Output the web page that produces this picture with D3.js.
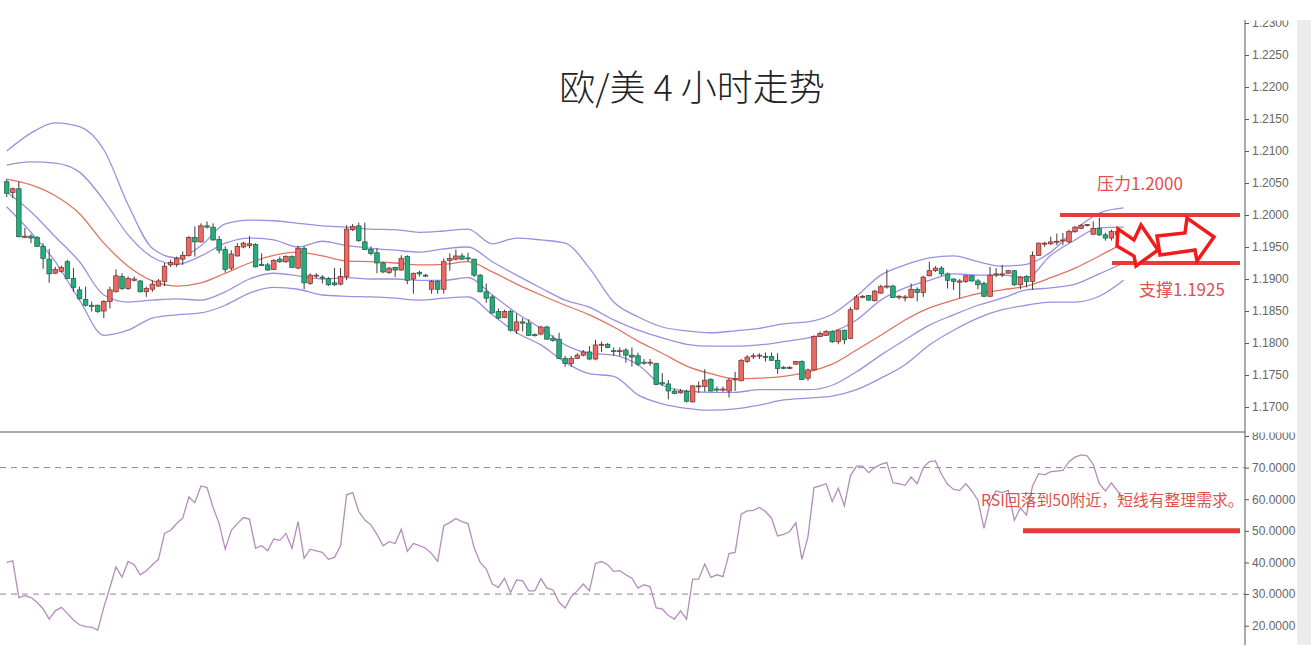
<!DOCTYPE html>
<html><head><meta charset="utf-8">
<script src="https://cdn.jsdelivr.net/npm/d3@7"></script>
<style>body{margin:0;background:#fff}svg{display:block}</style>
</head><body>
<svg id="c" width="1311" height="660"></svg>
<script>
const open=[1.2052,1.2035,1.2041,1.1965,1.1967,1.1965,1.1951,1.1931,1.1909,1.1912,
1.1927,1.1901,1.1883,1.1868,1.1859,1.1859,1.1850,1.1865,1.1880,1.1904,
1.1885,1.1898,1.1897,1.1880,1.1884,1.1889,1.1896,1.1922,1.1923,1.1931,
1.1937,1.1965,1.1958,1.1983,1.1981,1.1962,1.1946,1.1917,1.1936,1.1950,
1.1952,1.1954,1.1923,1.1922,1.1915,1.1931,1.1927,1.1935,1.1917,1.1948,
1.1893,1.1905,1.1903,1.1901,1.1894,1.1892,1.1904,1.1977,1.1983,1.1958,
1.1946,1.1941,1.1925,1.1910,1.1918,1.1914,1.1935,1.1900,1.1910,1.1906,
1.1884,1.1896,1.1884,1.1929,1.1931,1.1936,1.1933,1.1931,1.1906,1.1880,
1.1872,1.1849,1.1840,1.1849,1.1820,1.1833,1.1831,1.1813,1.1814,1.1825,
1.1807,1.1806,1.1776,1.1768,1.1776,1.1781,1.1786,1.1775,1.1797,1.1798,
1.1788,1.1787,1.1789,1.1781,1.1780,1.1770,1.1769,1.1768,1.1738,1.1736,
1.1725,1.1722,1.1724,1.1708,1.1732,1.1732,1.1743,1.1728,1.1727,1.1725,
1.1743,1.1741,1.1771,1.1779,1.1780,1.1779,1.1779,1.1773,1.1762,1.1761,
1.1767,1.1771,1.1745,1.1758,1.1810,1.1812,1.1818,1.1802,1.1820,1.1807,
1.1853,1.1872,1.1874,1.1866,1.1878,1.1888,1.1889,1.1872,1.1871,1.1871,
1.1884,1.1879,1.1905,1.1913,1.1917,1.1908,1.1900,1.1895,1.1896,1.1905,
1.1897,1.1893,1.1873,1.1907,1.1907,1.1909,1.1913,1.1891,1.1904,1.1896,
1.1937,1.1955,1.1955,1.1958,1.1960,1.1958,1.1974,1.1979,1.1984,1.1970,
1.1979,1.1969,1.1964,1.1974,1.1971];
const high=[1.2056,1.2043,1.2052,1.1980,1.1970,1.1967,1.1956,1.1947,1.1919,1.1921,
1.1930,1.1917,1.1888,1.1888,1.1865,1.1860,1.1867,1.1888,1.1915,1.1909,
1.1904,1.1904,1.1898,1.1888,1.1898,1.1900,1.1925,1.1930,1.1935,1.1943,
1.1967,1.1982,1.1987,1.1990,1.1987,1.1967,1.1951,1.1945,1.1956,1.1958,
1.1967,1.1956,1.1940,1.1925,1.1931,1.1935,1.1937,1.1937,1.1952,1.1951,
1.1909,1.1909,1.1906,1.1903,1.1917,1.1917,1.1984,1.1986,1.1988,1.1988,
1.1951,1.1948,1.1927,1.1919,1.1919,1.1937,1.1937,1.1910,1.1913,1.1908,
1.1898,1.1898,1.1932,1.1940,1.1946,1.1940,1.1941,1.1932,1.1908,1.1893,
1.1875,1.1854,1.1852,1.1852,1.1846,1.1839,1.1837,1.1815,1.1827,1.1827,
1.1812,1.1816,1.1780,1.1780,1.1784,1.1789,1.1795,1.1805,1.1802,1.1800,
1.1793,1.1793,1.1792,1.1793,1.1785,1.1775,1.1775,1.1769,1.1753,1.1742,
1.1729,1.1728,1.1727,1.1734,1.1740,1.1759,1.1745,1.1732,1.1732,1.1745,
1.1755,1.1775,1.1781,1.1784,1.1784,1.1785,1.1785,1.1784,1.1764,1.1764,
1.1772,1.1773,1.1760,1.1812,1.1818,1.1820,1.1820,1.1821,1.1821,1.1856,
1.1875,1.1875,1.1875,1.1883,1.1891,1.1915,1.1891,1.1875,1.1875,1.1893,
1.1887,1.1905,1.1927,1.1920,1.1920,1.1910,1.1901,1.1900,1.1906,1.1906,
1.1900,1.1896,1.1919,1.1917,1.1922,1.1914,1.1914,1.1905,1.1906,1.1943,
1.1957,1.1958,1.1966,1.1971,1.1972,1.1977,1.1983,1.1986,1.1986,1.1990,
1.1996,1.1972,1.1977,1.1977,1.1973];
const low=[1.2028,1.2026,1.1965,1.1964,1.1956,1.1950,1.1916,1.1894,1.1908,1.1910,
1.1900,1.1880,1.1868,1.1857,1.1849,1.1847,1.1839,1.1854,1.1879,1.1883,
1.1883,1.1896,1.1879,1.1872,1.1880,1.1888,1.1889,1.1919,1.1919,1.1922,
1.1935,1.1935,1.1957,1.1979,1.1960,1.1940,1.1910,1.1914,1.1935,1.1948,
1.1948,1.1918,1.1920,1.1913,1.1914,1.1925,1.1925,1.1917,1.1915,1.1884,
1.1891,1.1901,1.1893,1.1889,1.1889,1.1890,1.1898,1.1975,1.1958,1.1945,
1.1937,1.1909,1.1909,1.1908,1.1903,1.1913,1.1892,1.1877,1.1904,1.1903,
1.1877,1.1877,1.1877,1.1913,1.1929,1.1930,1.1927,1.1903,1.1879,1.1863,
1.1846,1.1837,1.1839,1.1818,1.1814,1.1818,1.1811,1.1810,1.1812,1.1805,
1.1802,1.1775,1.1763,1.1763,1.1775,1.1779,1.1773,1.1773,1.1786,1.1792,
1.1780,1.1779,1.1769,1.1763,1.1764,1.1766,1.1764,1.1734,1.1733,1.1712,
1.1720,1.1721,1.1707,1.1707,1.1722,1.1724,1.1724,1.1724,1.1724,1.1715,
1.1725,1.1740,1.1769,1.1775,1.1775,1.1771,1.1772,1.1752,1.1759,1.1759,
1.1766,1.1742,1.1741,1.1757,1.1809,1.1811,1.1800,1.1798,1.1798,1.1806,
1.1852,1.1870,1.1866,1.1865,1.1877,1.1885,1.1870,1.1868,1.1865,1.1870,
1.1865,1.1872,1.1904,1.1911,1.1905,1.1885,1.1883,1.1870,1.1894,1.1896,
1.1884,1.1872,1.1872,1.1903,1.1903,1.1908,1.1889,1.1884,1.1887,1.1883,
1.1936,1.1950,1.1953,1.1953,1.1953,1.1956,1.1972,1.1978,1.1982,1.1969,
1.1967,1.1960,1.1960,1.1967,1.1962];
const close=[1.2034,1.2041,1.1966,1.1967,1.1964,1.1951,1.1932,1.1908,1.1915,1.1918,
1.1901,1.1887,1.1869,1.1859,1.1857,1.1849,1.1865,1.1883,1.1905,1.1885,
1.1901,1.1900,1.1880,1.1885,1.1892,1.1897,1.1920,1.1926,1.1932,1.1937,
1.1965,1.1958,1.1983,1.1981,1.1961,1.1945,1.1915,1.1939,1.1951,1.1956,
1.1955,1.1919,1.1921,1.1914,1.1929,1.1927,1.1935,1.1918,1.1948,1.1894,
1.1906,1.1906,1.1902,1.1891,1.1891,1.1904,1.1978,1.1982,1.1960,1.1946,
1.1940,1.1925,1.1911,1.1917,1.1914,1.1932,1.1898,1.1909,1.1908,1.1905,
1.1896,1.1884,1.1927,1.1932,1.1936,1.1931,1.1932,1.1906,1.1880,1.1870,
1.1847,1.1839,1.1849,1.1820,1.1833,1.1831,1.1812,1.1812,1.1825,1.1806,
1.1804,1.1776,1.1768,1.1776,1.1781,1.1786,1.1775,1.1797,1.1798,1.1793,
1.1787,1.1788,1.1781,1.1778,1.1767,1.1769,1.1770,1.1735,1.1736,1.1725,
1.1721,1.1725,1.1709,1.1733,1.1733,1.1742,1.1725,1.1727,1.1728,1.1742,
1.1744,1.1773,1.1778,1.1780,1.1781,1.1778,1.1773,1.1760,1.1761,1.1762,
1.1771,1.1743,1.1758,1.1810,1.1815,1.1818,1.1802,1.1820,1.1805,1.1852,
1.1872,1.1873,1.1867,1.1881,1.1888,1.1889,1.1871,1.1873,1.1872,1.1884,
1.1879,1.1903,1.1913,1.1917,1.1908,1.1898,1.1896,1.1897,1.1905,1.1897,
1.1891,1.1873,1.1906,1.1908,1.1908,1.1913,1.1891,1.1903,1.1896,1.1937,
1.1956,1.1956,1.1958,1.1959,1.1961,1.1974,1.1981,1.1984,1.1985,1.1979,
1.1969,1.1964,1.1974,1.1969,1.1964];
const rsi=[40.0,40.5,28.9,29.5,28.9,27.4,25.3,22.1,24.7,25.8,
23.9,21.8,20.3,19.7,19.5,18.6,25.8,32.1,38.6,35.3,
40.3,39.3,36.1,37.4,39.3,41.0,49.2,50.2,52.3,54.0,
60.7,58.9,64.2,63.7,57.4,52.3,44.2,50.2,52.3,54.2,
53.7,44.5,45.3,43.7,47.4,47.0,49.2,44.5,52.9,41.3,
44.2,43.7,43.2,41.0,41.6,45.3,61.4,62.1,56.1,53.4,
51.9,48.9,45.3,46.6,46.0,50.5,43.5,46.0,45.3,44.5,
42.8,40.3,51.6,52.6,53.9,52.9,52.3,44.7,40.0,37.9,
33.2,32.1,35.0,30.5,34.5,34.2,31.0,31.0,34.9,31.9,
31.3,27.4,25.6,29.2,31.0,33.2,31.0,39.7,40.3,39.3,
37.2,37.4,36.1,35.0,31.9,33.0,32.3,25.6,25.3,23.2,
22.1,24.7,22.1,34.7,34.7,39.5,35.3,36.1,35.5,42.8,
43.2,55.3,56.3,56.5,57.4,56.1,54.0,48.4,48.9,49.8,
52.6,41.0,48.1,63.7,64.2,64.9,59.3,63.5,57.9,67.4,
70.5,70.5,68.4,70.0,71.0,71.6,65.2,64.9,64.4,67.0,
64.9,70.0,71.9,72.1,67.9,64.7,63.1,62.8,64.9,62.6,
59.7,50.8,58.9,62.6,62.1,62.8,53.3,57.3,55.0,64.2,
68.1,67.7,68.7,68.9,69.1,71.9,73.3,74.0,73.7,71.0,
64.9,62.6,65.2,62.6,60.0];
const bandIdx=[0,4,8,12,16,20,24,28,32,36,40,44,48,52,56,60,64,68,72,76,80,84,88,92,96,100,104,108,112,116,120,124,128,132,136,140,144,148,152,156,160,164,168,172,176,180,184];
const bandU2=[1.2100,1.2128,1.2144,1.2138,1.2102,1.2016,1.1948,1.1933,1.1952,1.1986,1.1992,1.1991,1.1987,1.1983,1.1981,1.1978,1.1977,1.1973,1.1975,1.1978,1.1955,1.1964,1.1961,1.1956,1.1917,1.1864,1.1841,1.1825,1.1819,1.1816,1.1819,1.1823,1.1830,1.1833,1.1845,1.1873,1.1906,1.1922,1.1933,1.1936,1.1927,1.1920,1.1923,1.1942,1.1977,1.2003,1.2011];
const bandU1=[1.2078,1.2083,1.2081,1.2067,1.2023,1.1969,1.1934,1.1923,1.1936,1.1956,1.1964,1.1961,1.1950,1.1959,1.1952,1.1948,1.1945,1.1942,1.1947,1.1950,1.1927,1.1906,1.1886,1.1867,1.1856,1.1836,1.1820,1.1808,1.1798,1.1795,1.1795,1.1797,1.1802,1.1808,1.1817,1.1836,1.1867,1.1886,1.1898,1.1908,1.1906,1.1906,1.1902,1.1937,1.1961,1.1980,1.1981];
const bandMid=[1.2056,1.2047,1.2030,1.2002,1.1956,1.1920,1.1897,1.1889,1.1894,1.1909,1.1925,1.1937,1.1942,1.1936,1.1928,1.1927,1.1925,1.1922,1.1923,1.1927,1.1911,1.1892,1.1875,1.1859,1.1844,1.1825,1.1803,1.1784,1.1764,1.1752,1.1744,1.1745,1.1748,1.1755,1.1767,1.1789,1.1812,1.1836,1.1855,1.1867,1.1877,1.1883,1.1889,1.1902,1.1917,1.1936,1.1956];
const bandL1=[1.2036,1.2005,1.1966,1.1927,1.1875,1.1864,1.1867,1.1869,1.1867,1.1880,1.1900,1.1909,1.1905,1.1900,1.1902,1.1900,1.1900,1.1898,1.1898,1.1902,1.1875,1.1847,1.1823,1.1797,1.1784,1.1781,1.1766,1.1734,1.1725,1.1723,1.1723,1.1727,1.1727,1.1727,1.1734,1.1755,1.1781,1.1805,1.1828,1.1844,1.1859,1.1870,1.1883,1.1886,1.1892,1.1908,1.1925];
const bandL2=[1.2013,1.1973,1.1927,1.1867,1.1812,1.1820,1.1839,1.1844,1.1847,1.1859,1.1878,1.1887,1.1884,1.1875,1.1873,1.1872,1.1870,1.1867,1.1870,1.1872,1.1844,1.1816,1.1797,1.1770,1.1752,1.1748,1.1719,1.1705,1.1698,1.1695,1.1697,1.1703,1.1711,1.1714,1.1717,1.1727,1.1745,1.1766,1.1797,1.1820,1.1839,1.1852,1.1859,1.1864,1.1864,1.1873,1.1898];
const priceTicks=[1.1700,1.1750,1.1800,1.1850,1.1900,1.1950,1.2000,1.2050,1.2100,1.2150,1.2200,1.2250,1.2300];
const rsiTicks=[20,30,40,50,60,70,80];
const rsiLevels=[30,70];
const resistance=1.2000, support=1.1925, rsiMark=50;
const titleText="欧/美 4 小时走势";
const resistLabel="压力1.2000", supportLabel="支撑1.1925";
const rsiNote="RSI回落到50附近，短线有整理需求。";

const svg=d3.select("#c");
const W=1311,H=660,axisX=1245;
svg.append("rect").attr("width",W).attr("height",H).attr("fill","#fff");
svg.append("rect").attr("x",1297).attr("y",20).attr("width",14).attr("height",625).attr("fill","#ececec");

const x=d3.scaleLinear().domain([0,open.length-1]).range([6.7,1123.6]);
const yP=d3.scaleLinear().domain([1.17,1.23]).range([407,23]);
const yR=d3.scaleLinear().domain([20,80]).range([625.7,436]);

const defs=svg.append("defs");
defs.append("clipPath").attr("id","cpP").append("rect").attr("x",-5).attr("y",20.5).attr("width",71).attr("height",411.5);
defs.append("clipPath").attr("id","cpR").append("rect").attr("x",-5).attr("y",432.5).attr("width",71).attr("height",220);

// title
svg.append("text").attr("x",692).attr("y",101).attr("text-anchor","middle")
  .style("font-family","'Noto Sans CJK SC'").style("font-size","36px").style("font-weight","300")
  .attr("fill","#222").text(titleText);

// bands
const bandLine=d3.line().x((d,i)=>x(bandIdx[i])).y(d=>yP(d)).curve(d3.curveMonotoneX);
const gB=svg.append("g");
[bandU2,bandU1,bandL1,bandL2].forEach(arr=>{
  gB.append("path").attr("d",bandLine(arr)).attr("fill","none").attr("stroke","#9b90e0").attr("stroke-width",1.3);
});
gB.append("path").attr("d",bandLine(bandMid)).attr("fill","none").attr("stroke","#e2735f").attr("stroke-width",1.3);

// candles
const gC=svg.append("g");
const bw=4.6;
open.forEach((o,i)=>{
  const c=close[i],up=c>=o;
  const cx=x(i);
  gC.append("line").attr("x1",cx).attr("x2",cx).attr("y1",yP(high[i])).attr("y2",yP(low[i]))
    .attr("stroke","#3a3a3a").attr("stroke-width",1);
  const top=yP(Math.max(o,c)),bot=yP(Math.min(o,c));
  gC.append("rect").attr("x",cx-bw/2).attr("y",top).attr("width",bw).attr("height",Math.max(1,bot-top))
    .attr("fill",up?"#ea6a63":"#26ab7c").attr("stroke",up?"#7a2a2a":"#1d5f47").attr("stroke-width",0.7);
});

// divider
svg.append("line").attr("x1",0).attr("x2",axisX).attr("y1",432).attr("y2",432).attr("stroke","#555").attr("stroke-width",1);

// rsi levels
rsiLevels.forEach(v=>{
  svg.append("line").attr("x1",0).attr("x2",axisX).attr("y1",yR(v)).attr("y2",yR(v))
    .attr("stroke","#888").attr("stroke-width",1).attr("stroke-dasharray","6,5");
});
// rsi line
const rsiLine=d3.line().x((d,i)=>x(i)).y(d=>yR(d));
svg.append("path").attr("d",rsiLine(rsi)).attr("fill","none").attr("stroke","#b48cbc").attr("stroke-width",1.3);

// axes
svg.append("line").attr("x1",axisX).attr("x2",axisX).attr("y1",20).attr("y2",645).attr("stroke","#555").attr("stroke-width",1);
const axP=svg.append("g").attr("transform",`translate(${axisX},0)`).attr("clip-path","url(#cpP)")
  .call(d3.axisRight(yP).tickValues(priceTicks).tickFormat(d3.format(".4f")).tickSize(4).tickPadding(3));
const axR=svg.append("g").attr("transform",`translate(${axisX},0)`).attr("clip-path","url(#cpR)")
  .call(d3.axisRight(yR).tickValues(rsiTicks).tickFormat(d3.format(".4f")).tickSize(4).tickPadding(3));
[axP,axR].forEach(a=>{
  a.select(".domain").remove();
  a.selectAll(".tick line").attr("stroke","#555");
  a.selectAll(".tick text").attr("fill","#666").style("font-family","'Liberation Sans',Arial,sans-serif").style("font-size","12px");
});

// annotations
const red="#e53b3b";
svg.append("line").attr("x1",1060).attr("x2",1240).attr("y1",yP(resistance)).attr("y2",yP(resistance)).attr("stroke",red).attr("stroke-width",4);
svg.append("line").attr("x1",1112).attr("x2",1240).attr("y1",yP(support)).attr("y2",yP(support)).attr("stroke",red).attr("stroke-width",4);
svg.append("line").attr("x1",1023).attr("x2",1240).attr("y1",yR(rsiMark)).attr("y2",yR(rsiMark)).attr("stroke",red).attr("stroke-width",5);
const tStyle=s=>s.style("font-family","'Noto Sans CJK SC'").attr("fill","#e0504e");
tStyle(svg.append("text").attr("x",1097).attr("y",190).style("font-size","17px").text(resistLabel));
tStyle(svg.append("text").attr("x",1139).attr("y",296).style("font-size","17px").text(supportLabel));
tStyle(svg.append("text").attr("x",981).attr("y",506).style("font-size","15.8px").text(rsiNote));

// arrows
const arrowStroke="#f01c1c";
const arrow1=[[1118,229],[1134,240],[1141,225],[1158,250],[1136,266],[1134,256],[1117,246]];
const arrow2=[[1157,236],[1185,233],[1187,218],[1214,237],[1197,261],[1195,250],[1160,255]];
[arrow1,arrow2].forEach(p=>{
  svg.append("path").attr("d",d3.line()(p)+"Z").attr("fill","#fff").attr("stroke",arrowStroke).attr("stroke-width",3.5).attr("stroke-linejoin","miter");
});
</script>
</body></html>
